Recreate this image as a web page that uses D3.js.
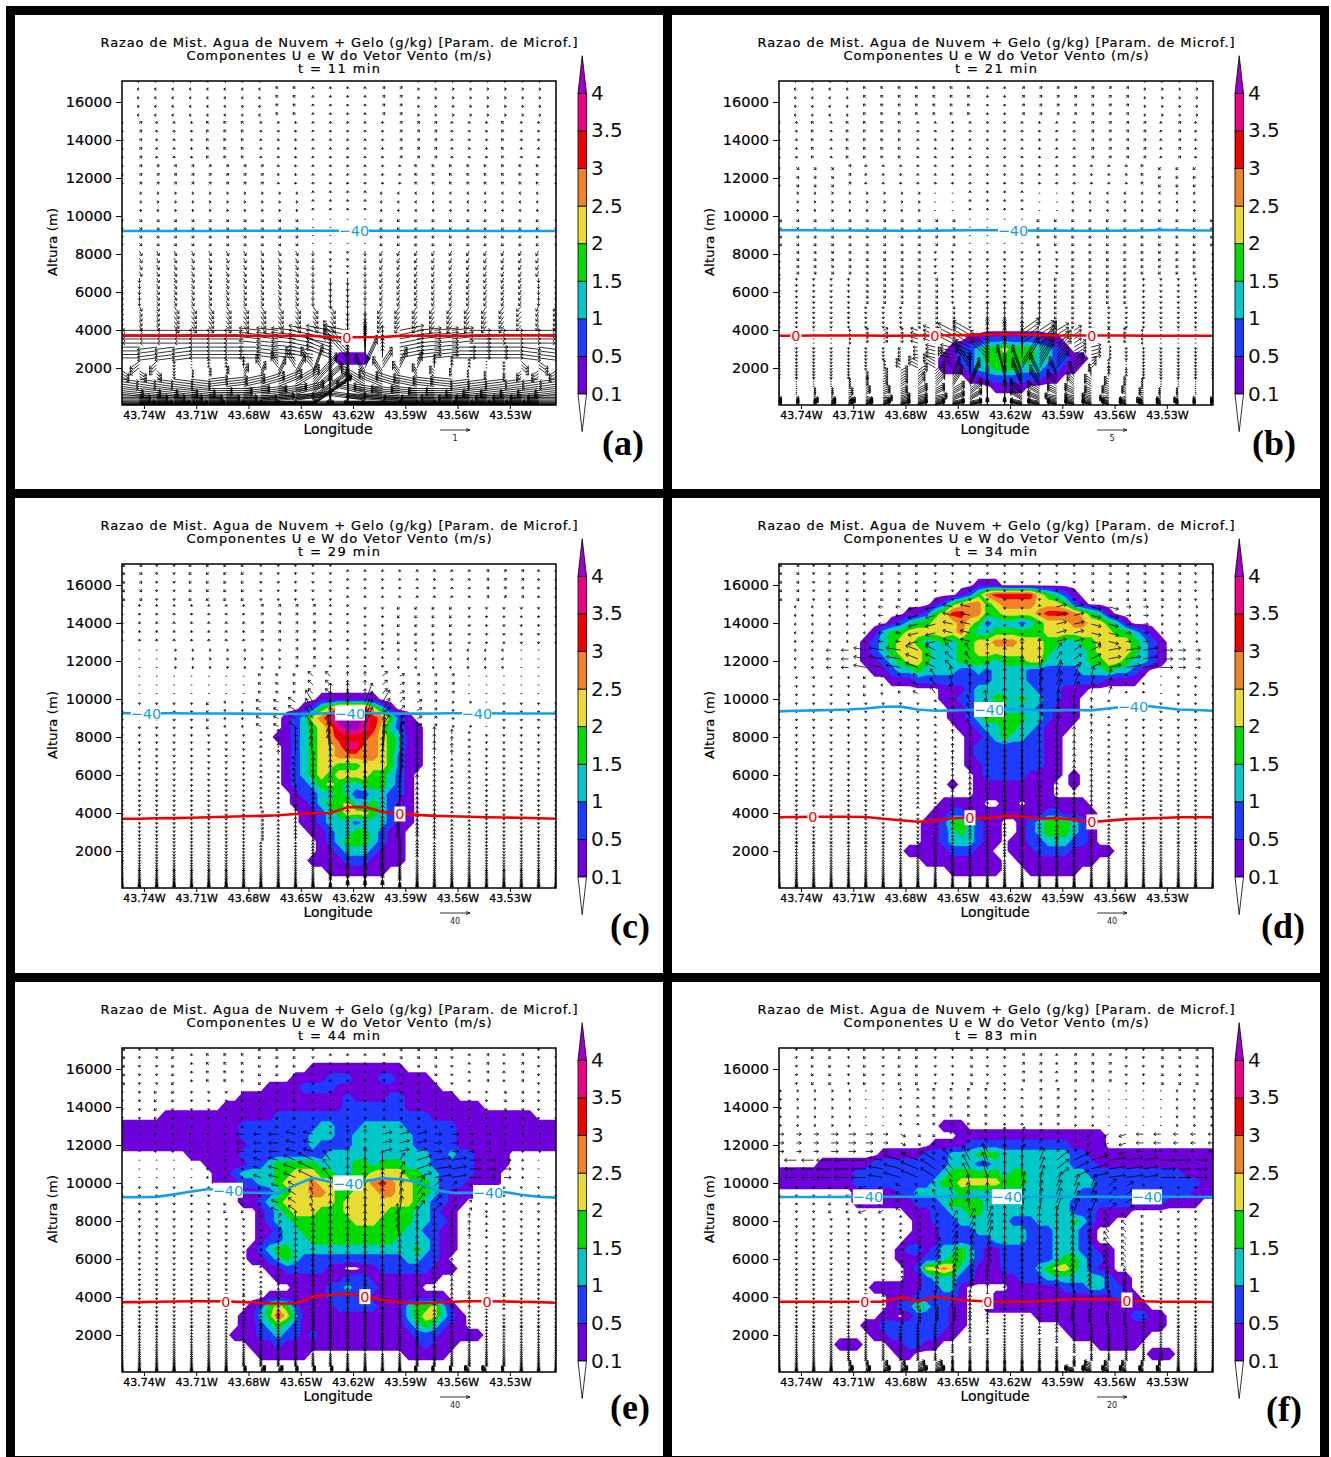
<!DOCTYPE html>
<html>
<head>
<meta charset="utf-8">
<script src="https://cdnjs.cloudflare.com/ajax/libs/d3/7.8.5/d3.min.js"></script>
<style>
body { margin: 0; background: #fff; }
text { font-family: "DejaVu Sans", sans-serif; }
</style>
</head>
<body>
<div id="chart-area"></div>
<script>
// Panels
var panelLetters = ["(a)", "(b)", "(c)", "(d)", "(e)", "(f)"];
var panelTimes = [11, 21, 29, 34, 44, 83];
var refSpeeds = [1, 5, 40, 40, 40, 20];

// Axes
var lonTicks = [-43.74, -43.71, -43.68, -43.65, -43.62, -43.59, -43.56, -43.53];
var heightTicks = [2000, 4000, 6000, 8000, 10000, 12000, 14000, 16000];
var lonDomain = [-43.7526, -43.5035];
var heightDomain = [53, 17105];

// Colour classes of the mixing ratio (g/kg)
var levels = [0.1, 0.5, 1, 1.5, 2, 2.5, 3, 3.5, 4];
var levelColors = ["#6e00dc", "#1e3cff", "#00c8c8", "#00dc00", "#e6dc32", "#f08228", "#f00000", "#f00082", "#a000c8"];
var classValues = [0, 0.3, 0.75, 1.25, 1.75, 2.25, 2.75, 3.25, 3.75, 4.3];

// Mixing ratio class on a 51 x 34 grid, rows from 17000 m down to 500 m by 500 m ("first column:classes")
var fieldA = ["","","","","","","","","","","","","","","","","","","","","","","","","","","","","","25:1111","","","",""];
var fieldB = ["","","","","","","","","","","","","","","","","","","","","","","","","","","",
  "22:11222222211","20:12234454443321","19:11223444444332211","19:1112334443332211","22:11222222211","25:1111",""];
var fieldC = ["","","","","","","","","","","","","","",
  "23:1111111","21:12457777531","19:123568999876421","19:1234568998753211","18:11234567777654311",
  "19:1234556886654311","19:1234556666654211","19:1234554445554211","19:123454555544321","19:122345433444321",
  "20:12233432233221","20:11234453343211","21:1123455543211","21:1123332333211","22:11233443211",
  "23:1234443211","23:1123332111","22:11112221111","24:1111111",""];
var fieldD = ["","",
  "23:111","21:12467777754321","18:124566456666555421","15:112457766445555677765431",
  "13:1234455565423332345556655431","11:134455555564334444445555555544321",
  "10:12345543343445566655544334455554321","10:12345554333445555555543333455554321",
  "10:11234554333444434445533333445543321","11:11233433332232333322222233343321",
  "13:11122222222233332222222221111","19:11123333333222111","19:1122334434332211","20:112333333322111",
  "20:112344444332111","21:1123344332111","22:11234332211","22:12222222211","22:12222222211","22:11222222211",
  "23:1222221111 34:1","20:1 23:111111111 34:1","23:111111111","19:11111 26:11 29:1111111",
  "18:1122111111111221111","17:11244321100123444321","17:11234321100123444321","17:11233321101122333221",
  "15:111112221100111222211111","17:111111111 28:111111111","20:111111 29:111111",""];
var fieldE = ["","",
  "22:11111111111","20:1111222111221111","17:11112222111111111111","14:1111111111112111122111111",
  "12:111111111111112222222111111111","5:1111111111111222222222222222222111111111111",
  "0:111111111111112222222223322233333222222111111111111",
  "0:111111111111112222222233322333333322222111111111111",
  "0:111111111111111222222232222333333322222111111111111",
  "8:1111112222222222333333333333223221111",
  "10:11111223444443333443444333222221111","11:112333344555443344555544332222111",
  "11:111223345556554445676554432221111","14:1112345566544555665544321111",
  "14:11234555555455555555432211","16:12345554445555544433211","16:12334444444555444433221",
  "16:11233444444444444332211","16:12233344444444443333211","15:123443333333333333343211",
  "15:11234322222222222233221","17:1122222110011222222111","18:1111111122211111111",
  "20:111122322211111","17:111111122222111111111","15:124542111122222111344531",
  "14:11347531111111111113455321","14:11234321111111111112343211",
  "13:11122322121111111111122211111","15:111211111111111111112111","16:111111 33:11111",""];
var fieldF = ["","","","","","","","",
  "19:111","21:11111111111111111","18:11112222222222221111",
  "12:111112223334443333333322111111111111111",
  "5:111111222222222333223333333332221111111111111 1".replace(" ",""),
  "0:111111111222222222234444443443333333222222222221111",
  "0:111111111222222222344555554443333333322222222222211",
  "9:111112233333433333333333332222222222222111",
  "9:1111111222344443333333333222222222221111",
  "15:11122334433333333332221111","16:11222333333222333343211","16:111222233333322233321",
  "15:1111222222333322233321","14:1221233432112222223332211","14:1112234432112222223443221",
  "15:125565321112222345543211","15:11233322111112223333333211",
  "11:11111122331 27:11111122233221","13:111222221 25:11111111111111211",
  "13:122432211 24:1111111111111111111","12:11 15:1222211 30:111111111112211",
  "10:112222222211 33:111111111111","11:1122222211 34:111111111","7:111 13:112211 37:11111","14:11 43:111",""];

// Wind, 26 columns, one row per height band. Letters: a..z = +1..+26, A..Z = -1..-26 steps of the panel's reference speed
var lonCols = [-43.7526,-43.7426,-43.7327,-43.7227,-43.7127,-43.7028,-43.6928,-43.6828,-43.6729,-43.6629,-43.6530,-43.6430,-43.6330,
  -43.6231,-43.6131,-43.6031,-43.5932,-43.5832,-43.5733,-43.5633,-43.5533,-43.5434,-43.5334,-43.5234,-43.5135,-43.5035];
var bandFloors = [15000, 13000, 11500, 10000, 8500, 7000, 5500, 4000, 3200, 2500, 2000, 1500, 1000, 600, 300, 0];
var levelHeights = [17100,16680,16220,15770,15310,14850,14400,13940,13480,13030,12570,12110,11660,11200,10740,10290,9830,9400,8970,8560,8160,
  7780,7420,7070,6740,6420,6110,5810,5520,5240,4970,4710,4460,4220,3980,3750,3530,3310,3100,2900,2710,2530,2350,2180,2010,1850,1700,
  1550,1410,1280,1150,1030,920,810,710,620,530,450,380,310,250,200,160,125,95,75,60];

var z = "00000000000000000000000000";
var al = "aaaaaaaaaaaaaaaaaaaaaaaaaa";
var AL = "AAAAAAAAAAAAAAAAAAAAAAAAAA";

var windUA = ["0AAAAAAAAAA0000aaaaaaaaaa0","0a000AAA00000000aaa000A000","0aaaaaaaa00000000AAAAAAAA0","0aaaaaaaaaa0000AAAAAAAAAA0",
  "0aaaaaaaaaa0000AAAAAAAAAA0","0aaaaaaaaaa0000AAAAAAAAAA0","00aaaaaaaaa0000AAAAAAAAA00","0aabbbbbbbbbb00BBBBBBBBBAA",
  "GGGGGHHHIIJJJJ00jjjiihhhgg","HHHHHHHHIIJJJJ00jjjjiihhhh","DDC00000BCDE00edcb00000cdd","ccb0aaabbcdd00DDCBBAAA0BCC",
  "ggghhhiijjjj00JJJJIIHHHGGG","iiijjjkkklll00LLLKKKJJJIII","llllmmmnnooo00OOONNMMMLLLL","nnnnnooooppp00PPPOOOONNNNN"];
var windWA = ["000000000aaaaaaaa000000000",al,al,"00000000000aaaa00000000000",
  "AAAAAAAAAAA0000AAAAAAAAAAA","0BBBBBBBBBBBAABBBBBBBBBBB0","BBBBBBBBBBBBCCBBBBBBBBBBBB","BBBCCCCCCCCCCDDCCCCCCCCBBB",
  "00000000aaabbbbbbaaa000000","a0AAA0000aabdkkdbaa0000AAa","BCCA0aabcdffkkkffdcba0ACCB","BBBA0abcdfgkkkgfdcba0ABBBB",
  "AAAAAaabcdfkkkfdcbaaAAAAAA","AAAAA00aabckkkcbaa00AAAAAA","00000000aabkkkbaa000000000","00000000000kkk000000000000"];

var windUB = ["0AAAAAAAAAAA00aaaaaaaaaaa0","00A0AAAA0000000000aaaa0a00","0aaaa0000000000000000AAAA0","0aaaaaaaa00000000AAAAAAAA0",
  "aaaaaaaaaaa0000AAAAAAAAAAA","0aaaaaaaa00000000AAAAAAAA0","00000aaaaa000000AAAAA00000","00000000aaa00000AAA0000000",
  "0000aabaCEFG00gfeca0AA0000","0000000ABDEFG00gfeda000000","000000aBDEFG00gfedb0000000","00000abcddc00CDDCBA0000000",
  "0000aabccddd00DDDCCBAA0000","00aabbccddee00EEDDCCBBAA00","aabbccdddeee00EEEDDDCCBBAA","aaabbccdddee00EEDDDCCBBAAA"];
var windWB = ["00000aaaaaaaaaaaaaaaa00000",al,"AAAAaaaaaaaaaaaaaaaaaaAAAA","00000000000aaaa00000000000",
  "AAAAAAAAAAA0000AAAAAAAAAAA","BAAAAAAAAAAAAAAAAAAAAAAAAB",AL,"AAAAAAAAAAAAbbbbAAAAAAAAAA",
  "00000aaaabcdeeedcbaaa00000","AAAAAAAA0aacgkkkgca0AAAAAA","AAAAAA0abcfjkkkjfcba0AAAAA","AAAAAAabcdfhkkkhfdcbaAAAAA",
  "00000aabcdfikkifdcbaa00000","00000aaabbcdjjdcbbaaa00000","AAAAAA0aaabcggcbaaa0AAAAAA","aaaaaaaaaaaabbaaaaaaaaaaaa"];

var windUC = ["aa00AAAA0000000000000aaa00","00000000aaaa0000AAAA000000","000aaaaaaaaa0000AAAAAAA000","00000000AAABB00bbaaa000000",
  "00000AAABBCC00ccbbaaa00000","00000000000AA00aa000000000","0000000000A00000a000000000",z,
  "00000000a0000000A000000000","00000000a0000000A000000000",z,z,z,z,z,z];
var windWC = ["AAAAAAAAAAAAAaaaaaaaaaaaaa","aaaaaaaaaaaaaaAAAAAAAAAAAA","0000000000aaaaaa0000000000","00000000aaabbbbbaaaa000000",
  "AAAAAA00aabehhhebaa000AAAA","AAAAAAAAabcehjjjhecbaAAAAA","AAAAAAAAaabdhjjjhdbaaAAAAA","AAAAAAAAaabcfhhhfcbaaAAAAA",
  "AAAAAAAAaabcdgggdcbaaAAAAA","AAAAAAAAaabccfffccbaaAAAAA","AAAAAAAAaaabcfffcbaaaAAAAA","AAAAAAAAaaabceeecbaaaAAAAA",
  "aAAAAAAAaaaabeeebaaaaAAAAa","aaaaaaaaaaaabdddbaaaaaaaaa","aaaaaaaaaaaabcccbaaaaaaaaa","aaaaaaaaaaaaabbbaaaaaaaaaa"];

var windUD = ["aa0AAAAAA000000000aaaaaa00","0AAAAABBDDDD0000ddddbbaaa0","0AABCEFFEDCB0000bcdeffecb0","00000AAABBA0000abbaa000000",
  "00000000000AA00aa000000000",z,z,z,z,z,z,z,z,z,z,z];
var windWD = [AL,"00000000AAaaaAAaaaAA000000","00000aaabbccceeecbbaaa0000","AAAAAA0aacdefgggfedcaa0AAA",
  "AAAAAAAAAabcefffecbaAAAAAA","AAAAAAAAAabcdfffdcbaAAAAAA","AAAAAAAAaabcdeeedcbaaAAAAA","AAAAAAAAaabccdddccbaaAAAAA",
  "AAAAAAAAAabccdddccbaAAAAAA","AAAAAAAAAaabbcccbbaaAAAAAA","aaaaaaaaaaaabbcccbbaaaaaaa","aaaaaaaaaaaabbbbbbaaaaaaaa",
  al,al,al,al];

var windUE = ["a00A0AAAAAA0000aaaa00a0a00","00AA000AAAA0000aaaa000aa00","00AAAAACCDDD000dddccbbaaa0","00000AAACDEFC000bfgfedca00",
  "000000AAACCA0000accba00000","000000000a000000A000000000",z,z,z,z,z,z,z,z,z,"0000000abbaaa0000AAABBA000"];
var windWE = ["AAAAaaaaAAAAaaaaAAAAaaaaAA",AL,"0000000000aaabbaaa00000000","00000000aabcdeedcbaa000000",
  "AAAAAAAAAabcdffffdcbaAAAAA","AAAAAAAAabcdeefffedcbaAAAA","AAAAAAAAabcdeeeeedcbaAAAAA","AAAAAAAAabcdddddddcbaAAAAA",
  "AAAAAAaabbccdddddccbbaaAAA","AAAAAAaaabbccccccbbaaaAAAA","aaaaaaaabbbcccccbbbaaaaaaa","aaaaaaaabbbbcccbbbbaaaaaaa",
  "aaaaaaaaabbbbbbbbbaaaaaaaa",al,al,al];

var windUF = ["A0AA0A0AA00a00aa0aaa00aaa0","aaaaa0000AAAA00aaaa0000AAA","bbbcccbbaAAAA0aaaaBBCCCBBB","EEEFFFFGGFDCB00befgggffeee",
  "000AACBBAAAA00aabbbcc00000","00000000aabbb0000AABBA0000","0000000aabbaa0000AABBA0000","0000000aaaaa00000AAAAA0000",
  z,"0000000aaaa000000AAAA00000",z,z,z,z,"0000aabbcc00000000CBBAA000","0000bbccdd0000000DDCCBB000"];
var windWF = ["AAAAAAAAAAAAAAaaaaaaAAAAAA","0000000aaaaaaaaaa000000000","0000000AAAaabccbaaAAA00000","000000abcdefggfedcbaaa0000",
  "AAAAAAAaabceeffffeecbaAAAA","AAAAAAAaabcdeeeeeedcbaAAAA","AAAAAAAabcdddddddddcbaAAAA","AAAAAAAabcdddcccdddcbaAAAA",
  "AAAAAAaabcccbaabccccbaAAAA","AAAAAAaabcccbAAbccbaaAAAAA","aaaaaaaabbbbaAAabbbaaaaaaa","aaaaaaabbbbaAAAAabbbaaaaaa",
  "aaaaaaaabbaAAAAAAabbaaaaaa","aaaaaaaaaaAAAAAAAAaaaaaaaa",al,al];

var windU = [windUA, windUB, windUC, windUD, windUE, windUF];
var windW = [windWA, windWB, windWC, windWD, windWE, windWF];
var fields = [fieldA, fieldB, fieldC, fieldD, fieldE, fieldF];

// Height of the 0 C and -40 C isotherms (m) at the wind columns
var zeroA = [3700,3700,3700,3700,3700,3700,3700,3700,3700,3700,3700,3690,3620,3620,3620,3630,3690,3700,3700,3700,3700,3700,3710,3710,3710,3700];
var coldA = [9210,9210,9210,9210,9210,9210,9220,9220,9220,9220,9220,9220,9220,9220,9220,9220,9220,9220,9220,9220,9220,9210,9210,9210,9210,9210];
var zeroB = [3700,3700,3710,3710,3710,3710,3700,3700,3710,3710,3720,3730,3760,3770,3760,3730,3710,3710,3710,3710,3710,3700,3700,3700,3700,3700];
var coldB = [9250,9250,9250,9240,9240,9230,9230,9220,9220,9230,9240,9250,9250,9250,9240,9230,9230,9220,9220,9220,9230,9240,9270,9250,9240,9240];
var zeroC = [3700,3700,3720,3730,3750,3780,3800,3830,3850,3880,3950,3980,4000,4300,4320,4050,3950,3900,3850,3830,3800,3780,3760,3750,3720,3700];
var coldC = [9250,9250,9250,9250,9240,9240,9240,9230,9220,9210,9210,9220,9250,9260,9260,9250,9230,9230,9240,9250,9250,9250,9240,9240,9240,9240];
var zeroD = [3780,3790,3800,3800,3800,3790,3700,3620,3540,3600,3720,3750,3720,3850,3820,3700,3730,3650,3530,3600,3680,3710,3740,3780,3780,3780];
var coldD = [9350,9380,9400,9420,9450,9500,9590,9600,9450,9380,9400,9420,9450,9450,9480,9400,9400,9420,9400,9500,9620,9650,9550,9450,9420,9380];
var zeroE = [3720,3730,3750,3760,3780,3780,3770,3730,3680,3660,3660,4020,4120,4170,4020,3840,3720,3660,3700,3750,3780,3780,3760,3750,3730,3700];
var coldE = [9250,9250,9270,9400,9550,9680,9620,9500,9480,9470,9900,10270,10050,10000,10100,10250,10200,10050,9650,9480,9480,9500,9530,9380,9280,9230];
var zeroF = [3750,3750,3750,3750,3750,3750,3750,3990,3760,4020,3880,3820,3760,3760,3760,3780,3830,3880,3890,3870,3840,3780,3750,3750,3750,3740];
var coldF = [9260,9260,9260,9260,9270,9270,9280,9280,9280,9280,9280,9280,9280,9280,9280,9280,9280,9280,9280,9270,9270,9270,9280,9280,9280,9270];
var zeroLines = [zeroA, zeroB, zeroC, zeroD, zeroE, zeroF];
var coldLines = [coldA, coldB, coldC, coldD, coldE, coldF];

// Longitudes of the contour labels
var zeroLabels = [[-43.6235], [-43.7429,-43.6631,-43.5730], [-43.5931], [-43.7331,-43.6430,-43.5730], [-43.6930,-43.6132,-43.5431], [-43.7033,-43.6327,-43.5529]];
var coldLabels = [[-43.6195], [-43.6183], [-43.7389,-43.6218,-43.5489], [-43.6321,-43.5494], [-43.6918,-43.6229,-43.5425], [-43.7016,-43.6218,-43.5414]];

// Layout
var panelX = [0, 657, 0, 657, 0, 657];
var panelY = [0, 0, 483, 483, 967, 967];
var sheetX = [15, 672, 15, 672, 15, 672];
var sheetY = [15, 15, 498, 498, 982, 982];
var sheetH = [474, 474, 475, 475, 474, 474];
var letterRight = [644, 639, 650, 648, 650, 645];
var letterBase = [455, 455, 455, 455, 452, 454];
var plot = { left: 122, top: 81, width: 434, height: 324 };

var svg = d3.select("#chart-area")
    .append("svg")
        .attr("width", 1331)
        .attr("height", 1457);

svg.append("rect").attr("x", 6).attr("y", 6).attr("width", 1323).attr("height", 1451).attr("fill", "#000");

svg.append("defs").append("clipPath")
    .attr("id", "plot-clip")
    .append("rect")
        .attr("width", plot.width)
        .attr("height", plot.height);

// Scales
var x = d3.scaleLinear().domain(lonDomain).range([0, plot.width]);
var y = d3.scaleLinear().domain(heightDomain).range([plot.height, 0]);
var gridLon = d3.scaleLinear().domain([0, 50]).range(lonDomain);
var gridHeight = d3.scaleLinear().domain([0, 33]).range([17000, 500]);
var barY = d3.scaleLinear().domain([0, 8]).range([394, 93.3]);

var contours = d3.contours().size([51, 34]).thresholds(levels);
var gridPath = d3.geoPath(d3.geoTransform({
    point: function(px, py) {
        this.stream.point(x(gridLon(px - 0.5)), y(gridHeight(py - 0.5)));
    }
}));

function parseField(rows) {
    var values = new Array(51 * 34).fill(0);
    rows.forEach(function(row, r) {
        if (!row) return;
        row.split(" ").forEach(function(seg) {
            var parts = seg.split(":");
            parts[1].split("").forEach(function(c, i) {
                values[r * 51 + (+parts[0]) + i] = classValues[+c];
            });
        });
    });
    return values;
}

function decode(c) {
    if (c === "0") return 0;
    var code = c.charCodeAt(0);
    return code >= 97 ? code - 96 : -(code - 64);
}

function arrowPath(p, lon, h, speedU, speedW, len) {
    var x0 = x(lon), y0 = y(h);
    var dx = len(speedU), dy = -len(speedW);
    var l = Math.sqrt(dx * dx + dy * dy);
    if (l < 0.5) {
        p.moveTo(x0 - 0.8, y0);
        p.lineTo(x0 + 0.8, y0);
        return;
    }
    var x1 = x0 + dx, y1 = y0 + dy;
    var hl = Math.min(3.2, 2.2 + l * 0.1);
    var a = Math.atan2(dy, dx);
    p.moveTo(x0, y0);
    p.lineTo(x1, y1);
    p.moveTo(x1 - hl * Math.cos(a - 0.65), y1 - hl * Math.sin(a - 0.65));
    p.lineTo(x1, y1);
    p.lineTo(x1 - hl * Math.cos(a + 0.65), y1 - hl * Math.sin(a + 0.65));
}

panelLetters.forEach(function(letter, i) {
    svg.append("rect")
        .attr("x", sheetX[i]).attr("y", sheetY[i])
        .attr("width", 648).attr("height", sheetH[i])
        .attr("fill", "#fff");

    var g = svg.append("g").attr("transform", "translate(" + panelX[i] + "," + panelY[i] + ")");

    // Titles
    var titles = [
        ["Razao de Mist. Agua de Nuvem + Gelo (g/kg) [Param. de Microf.]", 47, 477],
        ["Componentes U e W do Vetor Vento (m/s)", 60, 305],
        ["t = " + panelTimes[i] + " min", 73, 82]
    ];
    titles.forEach(function(t) {
        g.append("text")
            .attr("x", 339)
            .attr("y", t[1])
            .attr("text-anchor", "middle")
            .attr("font-size", 13)
            .attr("textLength", t[2])
            .attr("lengthAdjust", "spacing")
            .attr("stroke", "#000")
            .attr("stroke-width", 0.2)
            .text(t[0]);
    });

    var plotG = g.append("g").attr("transform", "translate(" + plot.left + "," + plot.top + ")");
    var inner = plotG.append("g").attr("clip-path", "url(#plot-clip)");

    // Filled contours
    inner.selectAll("path.band")
        .data(contours(parseField(fields[i])))
        .join("path")
            .attr("class", "band")
            .attr("d", gridPath)
            .attr("fill", function(d) { return levelColors[levels.indexOf(d.value)]; });

    // Wind vectors, 30 px for the reference speed, one letter is 2.4 px
    var len = d3.scaleLinear().domain([0, refSpeeds[i]]).range([0, 30]);
    var step = refSpeeds[i] / 12.5;
    var p = d3.path();
    levelHeights.forEach(function(h) {
        var band = bandFloors.findIndex(function(f) { return h >= f; });
        var rowU = windU[i][band], rowW = windW[i][band];
        lonCols.forEach(function(lon, k) {
            arrowPath(p, lon, h, decode(rowU[k]) * step, decode(rowW[k]) * step, len);
        });
    });
    plotG.append("path")
        .attr("d", p.toString())
        .attr("fill", "none")
        .attr("stroke", "#000")
        .attr("stroke-width", 0.8)
        .attr("clip-path", "url(#plot-clip)");

    // Isotherms
    var line = d3.line()
        .x(function(d, k) { return x(lonCols[k]); })
        .y(function(d) { return y(d); });
    plotG.append("path").attr("d", line(coldLines[i])).attr("fill", "none").attr("stroke", "#14a0e6").attr("stroke-width", 2.6);
    plotG.append("path").attr("d", line(zeroLines[i])).attr("fill", "none").attr("stroke", "#f00000").attr("stroke-width", 2.6);

    function lineLabel(lons, heights, txt, color, w) {
        lons.forEach(function(lon) {
            var h = heights[d3.bisectCenter(lonCols, lon)];
            plotG.append("rect")
                .attr("x", x(lon) - w / 2)
                .attr("y", y(h) - 7.5)
                .attr("width", w)
                .attr("height", 15)
                .attr("fill", "#fff");
            plotG.append("text")
                .attr("x", x(lon))
                .attr("y", y(h) + 5.5)
                .attr("text-anchor", "middle")
                .attr("font-size", 14.5)
                .attr("fill", color)
                .text(txt);
        });
    }
    lineLabel(coldLabels[i], coldLines[i], "\u221240", "#14a0e6", 30);
    lineLabel(zeroLabels[i], zeroLines[i], "0", "#f00000", 11);

    // Frame
    plotG.append("rect")
        .attr("width", plot.width)
        .attr("height", plot.height)
        .attr("fill", "none")
        .attr("stroke", "#000")
        .attr("stroke-width", 1.5);

    // Axes
    var xAxisCall = d3.axisBottom(x)
        .tickValues(lonTicks)
        .tickSize(4)
        .tickPadding(2)
        .tickFormat(function(d) { return Math.abs(d).toFixed(2) + "W"; });
    var xAxis = plotG.append("g").attr("transform", "translate(0," + plot.height + ")").call(xAxisCall);
    xAxis.select(".domain").remove();
    xAxis.selectAll("text").attr("font-size", 11).attr("font-family", '"DejaVu Sans", sans-serif')
        .attr("fill", "#000").attr("stroke", "#000").attr("stroke-width", 0.3);

    var yAxisCall = d3.axisLeft(y)
        .tickValues(heightTicks)
        .tickSize(6)
        .tickPadding(4)
        .tickFormat(d3.format("d"));
    var yAxis = plotG.append("g").call(yAxisCall);
    yAxis.select(".domain").remove();
    yAxis.selectAll("text").attr("font-size", 14.5).attr("font-family", '"DejaVu Sans", sans-serif')
        .attr("fill", "#000").attr("stroke", "#000").attr("stroke-width", 0.2);

    g.append("text")
        .attr("x", 338).attr("y", 434)
        .attr("text-anchor", "middle")
        .attr("font-size", 14)
        .attr("textLength", 69)
        .attr("stroke", "#000")
        .attr("stroke-width", 0.2)
        .text("Longitude");

    g.append("text")
        .attr("transform", "translate(57,242) rotate(-90)")
        .attr("text-anchor", "middle")
        .attr("font-size", 13)
        .attr("textLength", 68)
        .attr("stroke", "#000")
        .attr("stroke-width", 0.2)
        .text("Altura (m)");

    // Reference vector
    var refLen = len(refSpeeds[i]);
    var ref = d3.path();
    ref.moveTo(440, 430);
    ref.lineTo(440 + refLen, 430);
    ref.moveTo(440 + refLen - 4, 428.5);
    ref.lineTo(440 + refLen, 430);
    ref.lineTo(440 + refLen - 4, 431.5);
    g.append("path").attr("d", ref.toString()).attr("fill", "none").attr("stroke", "#000").attr("stroke-width", 0.8);
    g.append("text")
        .attr("x", 440 + refLen / 2).attr("y", 441)
        .attr("text-anchor", "middle")
        .attr("font-size", 8)
        .attr("fill", "#222")
        .text(refSpeeds[i]);

    // Colour bar
    var bar = g.append("g");
    levels.slice(0, 8).forEach(function(lv, k) {
        bar.append("rect")
            .attr("x", 578)
            .attr("y", barY(k + 1))
            .attr("width", 8.5)
            .attr("height", barY(k) - barY(k + 1))
            .attr("fill", levelColors[k])
            .attr("stroke", "#000")
            .attr("stroke-width", 0.8);
    });
    bar.append("path")
        .attr("d", "M578," + barY(8) + "L586.5," + barY(8) + "L582.2," + barY(9) + "Z")
        .attr("fill", levelColors[8])
        .attr("stroke", "#000")
        .attr("stroke-width", 0.8);
    bar.append("path")
        .attr("d", "M578," + barY(0) + "L586.5," + barY(0) + "L582.2," + barY(-1) + "Z")
        .attr("fill", "#fff")
        .attr("stroke", "#000")
        .attr("stroke-width", 0.8);
    bar.selectAll("text")
        .data(levels)
        .join("text")
            .attr("x", 591)
            .attr("y", function(d, k) { return barY(k) + 6.5; })
            .attr("font-size", 20)
            .attr("fill", "#111")
            .text(function(d) { return d; });

    // Panel letter
    g.append("text")
        .attr("x", letterRight[i])
        .attr("y", letterBase[i])
        .attr("text-anchor", "end")
        .attr("font-size", 36)
        .attr("font-weight", "bold")
        .style("font-family", '"Liberation Serif", serif')
        .text(letter);
});
</script>
</body>
</html>
